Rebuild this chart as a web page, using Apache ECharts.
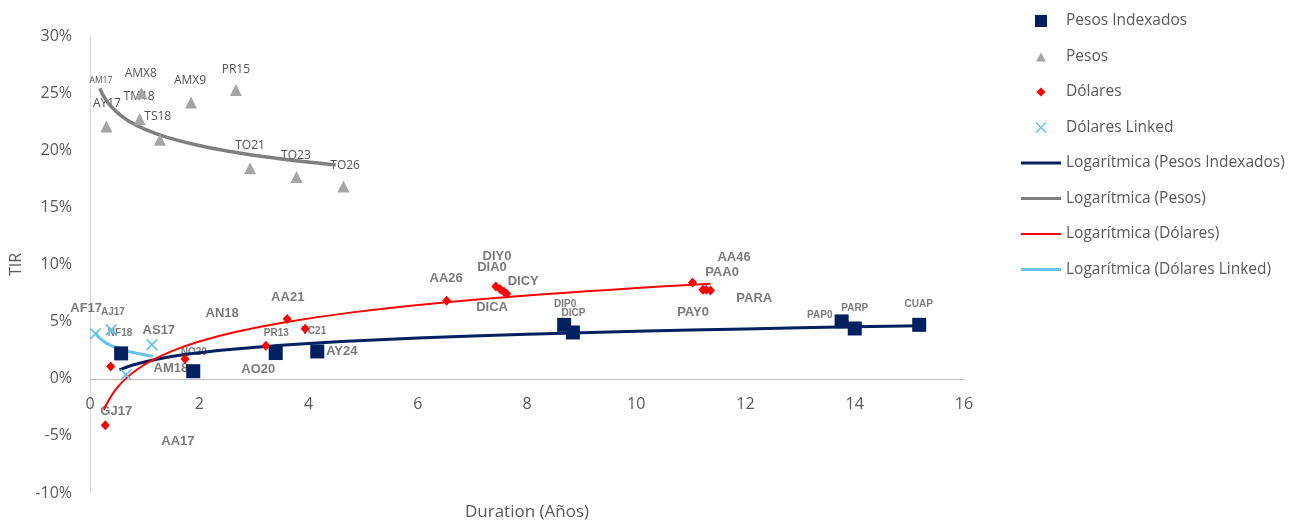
<!DOCTYPE html>
<html>
<head>
<meta charset="utf-8">
<title>TIR vs Duration</title>
<script src="https://cdn.jsdelivr.net/npm/echarts@6/dist/echarts.min.js"></script>
<style>
  html, body { margin: 0; padding: 0; background: #ffffff; }
  #chart { width: 1309px; height: 522px; }
</style>
</head>
<body>
<div id="chart"></div>
<script>
// Bonos: [duración (años), TIR (%)]
const pesosIndexados = [
  [0.57, 2.22], [1.89, 0.66], [3.40, 2.25], [4.16, 2.39], [8.68, 4.72],
  [8.84, 4.05], [13.76, 5.02], [14.00, 4.40], [15.18, 4.72]
];
const pesos = [
  [0.30, 22.07], [0.94, 25.00], [0.91, 22.72], [1.28, 20.91], [1.85, 24.17],
  [2.67, 25.28], [2.93, 18.43], [3.78, 17.65], [4.64, 16.83]
];
const dolares = [
  [0.38, 1.08], [0.28, -4.08], [1.74, 1.72], [3.22, 2.89], [3.61, 5.22],
  [3.94, 4.37], [6.53, 6.82], [7.43, 8.08], [7.51, 7.83], [7.58, 7.61],
  [7.63, 7.44], [11.03, 8.43], [11.22, 7.80], [11.28, 7.78], [11.36, 7.73]
];
const dolaresLinked = [
  [0.10, 3.94], [0.39, 4.29], [1.135, 2.97], [0.66, 0.35]
];

// Curvas de tendencia logarítmica
const tendPesosIndexados = [
  [0.54, 0.77], [0.8, 1.22], [1.2, 1.69], [1.8, 2.16], [2.5, 2.54], [3.5, 2.94],
  [5, 3.35], [7, 3.74], [9, 4.03], [11, 4.26], [13, 4.46], [15.2, 4.64]
];
const tendPesos = [
  [0.18, 25.42], [0.25, 24.73], [0.35, 24.03], [0.5, 23.29], [0.7, 22.59],
  [1.0, 21.85], [1.4, 21.15], [2.0, 20.41], [2.6, 19.86], [3.2, 19.43],
  [3.9, 19.02], [4.5, 18.72]
];
const tendDolares = [
  [0.256, -2.73], [0.3, -2.26], [0.4, -1.43], [0.5, -0.78], [0.65, -0.01],
  [0.85, 0.77], [1.1, 1.52], [1.5, 2.42], [2.0, 3.26], [2.7, 4.13],
  [3.6, 4.97], [4.8, 5.81], [6.2, 6.55], [8.0, 7.29], [10.0, 7.94], [11.36, 8.31]
];
const tendLinked = [
  [0.10, 4.06], [0.15, 3.71], [0.2, 3.47], [0.3, 3.12], [0.4, 2.88],
  [0.55, 2.61], [0.7, 2.40], [0.85, 2.24], [1.0, 2.10], [1.15, 1.98]
];

// Nombres de los bonos: [texto, duración, TIR]
const etiquetasPesos = [
  ['AMX8', 0.93, 26.68], ['AY17', 0.31, 24.06], ['TM18', 0.90, 24.67],
  ['TS18', 1.24, 22.92], ['AMX9', 1.83, 26.07], ['PR15', 2.67, 27.03],
  ['TO21', 2.93, 20.38], ['TO23', 3.77, 19.51], ['TO26', 4.67, 18.64]
];
const etiquetasMini = [
  ['AM17', 0.20, 26.07]
];
const etiquetasGrandes = [
  ['AF17', -0.07, 6.12], ['AS17', 1.26, 4.20], ['AN18', 2.42, 5.69],
  ['AA21', 3.62, 7.09], ['AM18', 1.48, 0.87], ['AO20', 3.08, 0.79],
  ['AY24', 4.61, 2.36], ['GJ17', 0.48, -2.89], ['AA17', 1.61, -5.51],
  ['AA26', 6.52, 8.75], ['DIY0', 7.45, 10.67], ['DIA0', 7.36, 9.71],
  ['DICY', 7.93, 8.49], ['DICA', 7.36, 6.21], ['PAY0', 11.04, 5.77],
  ['AA46', 11.79, 10.59], ['PAA0', 11.57, 9.27], ['PARA', 12.16, 7.00]
];
const etiquetasChicas = [
  ['AJ17', 0.42, 5.86], ['NF18', 0.55, 4.02], ['PR13', 3.41, 3.94],
  ['TC21', 4.10, 4.20], ['NO20', 1.90, 2.36], ['DIP0', 8.70, 6.56],
  ['DICP', 8.85, 5.77], ['PAP0', 13.36, 5.60], ['PARP', 14.00, 6.21],
  ['CUAP', 15.17, 6.56]
];

const NAVY = '#002060';
const GRIS = '#a5a5a5';
const GRIS_OSC = '#7f7f7f';
const ROJO = '#ff0000';
const CELESTE = '#66c3ec';
const TEXTO = '#595959';

// Símbolos
const cruz = 'path://M1,0L5,4L9,0L10,1L6,5L10,9L9,10L5,6L1,10L0,9L4,5L0,1Z';
const iconoCuadrado = 'path://M0,0H12V12H0Z';
const iconoTriangulo = 'path://M0,0M12,12M1,11L6,2L11,11Z';
const iconoRombo = 'path://M0,0M12,12M6,1.5L10.5,6L6,10.5L1.5,6Z';
const iconoCruz = 'path://M0,0M12,12M1.6,0.6L6,5L10.4,0.6L11.4,1.6L7,6L11.4,10.4L10.4,11.4L6,7L1.6,11.4L0.6,10.4L5,6L0.6,1.6Z';
const iconoLinea3 = 'path://M0,0H40V3H0Z';
const iconoLinea2 = 'path://M0,0H40V2H0Z';

function serieEtiquetas(lista, font) {
  return {
    type: 'scatter',
    name: 'etiquetas',
    data: lista.map(e => ({ name: e[0], value: [e[1], e[2]] })),
    symbolSize: 1,
    itemStyle: { color: 'rgba(0,0,0,0)' },
    clip: false,
    silent: true,
    z: 1,
    label: Object.assign({
      show: true,
      position: 'inside',
      formatter: p => p.name
    }, font)
  };
}

const chart = echarts.init(document.getElementById('chart'), null, { renderer: 'canvas' });

chart.setOption({
  animation: false,
  backgroundColor: '#ffffff',
  grid: { left: 90, right: 345, top: 36, bottom: 29, containLabel: false, outerBoundsMode: 'none' },
  legend: {
    orient: 'vertical',
    left: 1016,
    top: 7,
    itemWidth: 40,
    itemHeight: 12,
    itemGap: 17.5,
    symbolKeepAspect: true,
    textStyle: { color: TEXTO, fontFamily: 'Open Sans', fontSize: 15.5, lineHeight: 18 },
    data: [
      { name: 'Pesos Indexados', icon: iconoCuadrado },
      { name: 'Pesos', icon: iconoTriangulo },
      { name: 'Dólares', icon: iconoRombo },
      { name: 'Dólares Linked', icon: iconoCruz },
      { name: 'Logarítmica (Pesos Indexados)', icon: iconoLinea3 },
      { name: 'Logarítmica (Pesos)', icon: iconoLinea3 },
      { name: 'Logarítmica (Dólares)', icon: iconoLinea2 },
      { name: 'Logarítmica (Dólares Linked)', icon: iconoLinea3 }
    ]
  },
  xAxis: {
    type: 'value',
    min: 0, max: 16, interval: 2,
    offset: -114,
    name: 'Duration (Años)',
    nameLocation: 'middle',
    nameGap: 125,
    nameTextStyle: { color: TEXTO, fontFamily: 'Open Sans', fontSize: 17 },
    axisLine: { show: true, onZero: false, lineStyle: { color: '#bfbfbf', width: 1 } },
    axisTick: { show: false },
    splitLine: { show: false },
    axisLabel: { color: TEXTO, fontFamily: 'Open Sans', fontSize: 16, margin: 17 }
  },
  yAxis: {
    type: 'value',
    min: -10, max: 30, interval: 5,
    name: 'TIR',
    nameLocation: 'middle',
    nameGap: 64,
    nameTextStyle: { color: TEXTO, fontFamily: 'Open Sans', fontSize: 16 },
    axisLine: { show: true, onZero: false, lineStyle: { color: '#d9d9d9', width: 1 } },
    axisTick: { show: false },
    splitLine: { show: false },
    axisLabel: { color: TEXTO, fontFamily: 'Open Sans', fontSize: 16, margin: 18, formatter: '{value}%' }
  },
  series: [
    serieEtiquetas(etiquetasPesos, { color: '#262626', fontFamily: 'Open Sans', fontSize: 12 }),
    serieEtiquetas(etiquetasMini, { color: '#262626', fontFamily: 'Open Sans', fontSize: 8.5 }),
    serieEtiquetas(etiquetasGrandes, { color: TEXTO, fontFamily: 'Liberation Sans', fontWeight: 'bold', fontSize: 13 }),
    serieEtiquetas(etiquetasChicas, { color: TEXTO, fontFamily: 'Liberation Sans', fontWeight: 'bold', fontSize: 10 }),
    {
      name: 'Logarítmica (Pesos Indexados)', type: 'line', data: tendPesosIndexados,
      smooth: 0.4, symbol: 'none', showSymbol: false, z: 3,
      lineStyle: { color: NAVY, width: 3 }, itemStyle: { color: NAVY }
    },
    {
      name: 'Logarítmica (Pesos)', type: 'line', data: tendPesos,
      smooth: 0.4, symbol: 'none', showSymbol: false, z: 3,
      lineStyle: { color: GRIS_OSC, width: 3.5 }, itemStyle: { color: GRIS_OSC }
    },
    {
      name: 'Logarítmica (Dólares)', type: 'line', data: tendDolares,
      smooth: 0.4, symbol: 'none', showSymbol: false, z: 3,
      lineStyle: { color: ROJO, width: 2 }, itemStyle: { color: ROJO }
    },
    {
      name: 'Logarítmica (Dólares Linked)', type: 'line', data: tendLinked,
      smooth: 0.4, symbol: 'none', showSymbol: false, z: 3,
      lineStyle: { color: CELESTE, width: 3 }, itemStyle: { color: CELESTE }
    },
    {
      name: 'Pesos Indexados', type: 'scatter', data: pesosIndexados,
      symbol: 'rect', symbolSize: 14, z: 4, itemStyle: { color: NAVY, opacity: 1 }
    },
    {
      name: 'Pesos', type: 'scatter', data: pesos,
      symbol: 'triangle', symbolSize: 12, z: 4, itemStyle: { color: GRIS, opacity: 1 }
    },
    {
      name: 'Dólares', type: 'scatter', data: dolares,
      symbol: 'diamond', symbolSize: [9, 10], z: 4, itemStyle: { color: ROJO, opacity: 1 }
    },
    {
      name: 'Dólares Linked', type: 'scatter', data: dolaresLinked,
      symbol: cruz, symbolSize: 12, z: 4, itemStyle: { color: CELESTE, opacity: 1 }
    }
  ]
});
</script>
</body>
</html>
